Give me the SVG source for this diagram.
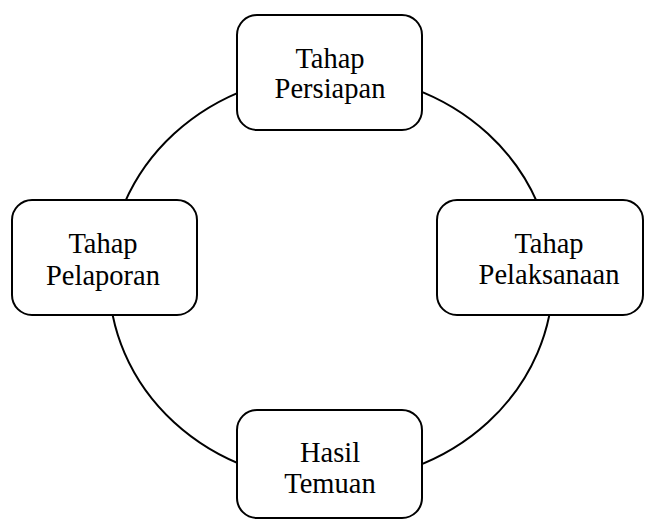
<svg xmlns="http://www.w3.org/2000/svg" width="646" height="519" viewBox="0 0 646 519">
<style>
.box{fill:#fff;stroke:#000;stroke-width:2}
.lbl{font-family:"Liberation Serif","Times New Roman",serif;font-size:28.5px;fill:#000;text-anchor:middle}
</style>
<rect width="646" height="519" fill="#fff"/>
<g id="connectors">
<ellipse cx="331" cy="278" rx="222" ry="204" fill="none" stroke="#000" stroke-width="2"/>
</g>
<g id="persiapan">
<rect class="box" x="237" y="15" width="185" height="115" rx="20"/>
<text class="lbl" x="330" y="68">Tahap</text>
<text class="lbl" x="330" y="98">Persiapan</text>
</g>
<g id="pelaporan">
<rect class="box" x="12" y="200" width="185" height="115" rx="20"/>
<text class="lbl" x="103" y="253">Tahap</text>
<text class="lbl" x="103" y="285">Pelaporan</text>
</g>
<g id="pelaksanaan">
<rect class="box" x="437" y="200" width="206" height="115" rx="20"/>
<text class="lbl" x="549" y="253">Tahap</text>
<text class="lbl" x="549" y="284">Pelaksanaan</text>
</g>
<g id="temuan">
<rect class="box" x="237" y="410" width="185" height="108" rx="20"/>
<text class="lbl" x="330" y="462">Hasil</text>
<text class="lbl" x="330" y="493">Temuan</text>
</g>
</svg>
